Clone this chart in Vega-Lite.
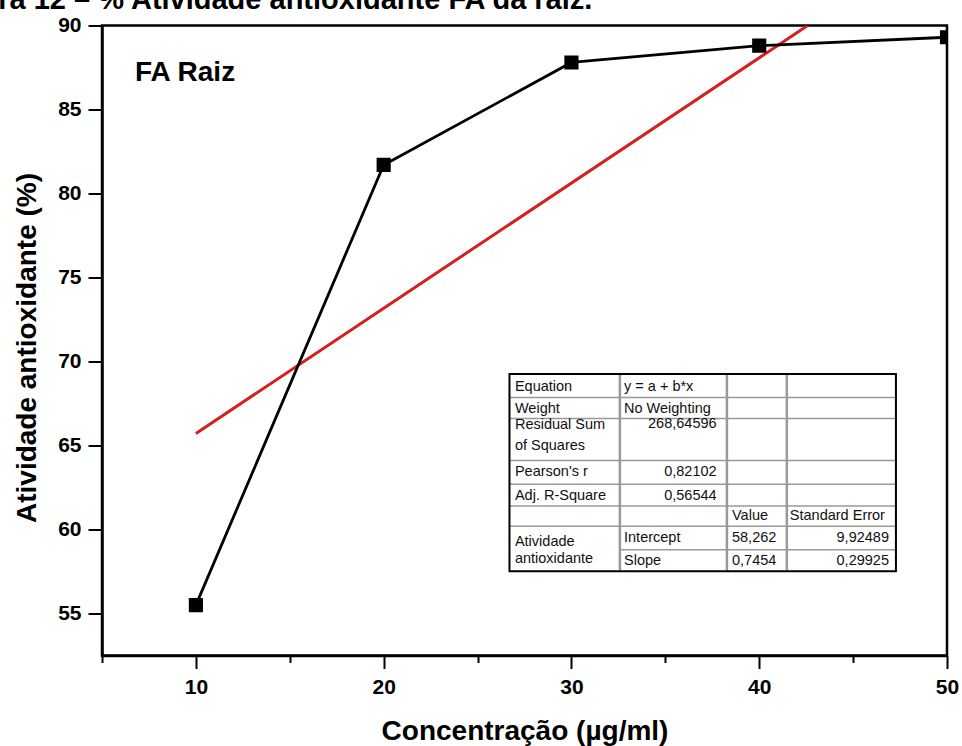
{
  "$schema": "https://vega.github.io/schema/vega-lite/v6.json",
  "width": 845,
  "height": 630,
  "autosize": {"type": "none"},
  "padding": {"left": 102, "top": 25.5, "right": 15, "bottom": 90.5},
  "background": "white",
  "config": {
    "font": "Liberation Sans",
    "view": {"stroke": "black", "strokeWidth": 2.5},
    "title": {"font": "Liberation Sans"}
  },
  "title": {
    "text": "Figura 12 – % Atividade antioxidante FA da raiz.",
    "anchor": "start",
    "frame": "group",
    "dx": -165,
    "dy": 23,
    "offset": 0,
    "baseline": "alphabetic",
    "fontSize": 29,
    "fontWeight": "bold",
    "color": "black"
  },
  "datasets": {
    "pts": [
      {"c": 10, "a": 55.5},
      {"c": 20, "a": 81.7},
      {"c": 30, "a": 87.8},
      {"c": 40, "a": 88.8},
      {"c": 50, "a": 89.3}
    ],
    "fit": [
      {"c": 10, "a": 65.716},
      {"c": 42.58, "a": 90}
    ],
    "label": [
      {"c": 6.76, "a": 86.7, "t": "FA Raiz"}
    ],
    "box": [
      {"x": 26.7, "x2": 47.28, "y": 57.51, "y2": 69.25}
    ],
    "hlines": [
      {"x": 26.7, "x2": 47.28, "y": 67.85},
      {"x": 26.7, "x2": 47.28, "y": 66.6},
      {"x": 26.7, "x2": 47.28, "y": 64.1},
      {"x": 26.7, "x2": 47.28, "y": 62.7},
      {"x": 26.7, "x2": 47.28, "y": 61.4},
      {"x": 26.7, "x2": 47.28, "y": 60.2},
      {"x": 32.58, "x2": 47.28, "y": 58.8}
    ],
    "vlines": [
      {"x": 32.58, "y": 57.51, "y2": 69.25},
      {"x": 38.28, "y": 57.51, "y2": 69.25},
      {"x": 41.47, "y": 57.51, "y2": 69.25}
    ],
    "cells": [
      {"x": 26.99, "y": 68.49, "t": "Equation", "ra": false},
      {"x": 32.8, "y": 68.49, "t": "y = a + b*x", "ra": false},
      {"x": 26.99, "y": 67.19, "t": "Weight", "ra": false},
      {"x": 32.8, "y": 67.19, "t": "No Weighting", "ra": false},
      {"x": 26.99, "y": 66.25, "t": "Residual Sum", "ra": false},
      {"x": 26.99, "y": 65.0, "t": "of Squares", "ra": false},
      {"x": 37.73, "y": 66.29, "t": "268,64596", "ra": true},
      {"x": 26.99, "y": 63.4, "t": "Pearson's r", "ra": false},
      {"x": 37.73, "y": 63.4, "t": "0,82102", "ra": true},
      {"x": 26.99, "y": 62.0, "t": "Adj. R-Square", "ra": false},
      {"x": 37.73, "y": 62.0, "t": "0,56544", "ra": true},
      {"x": 38.55, "y": 60.81, "t": "Value", "ra": false},
      {"x": 41.63, "y": 60.81, "t": "Standard Error", "ra": false},
      {"x": 26.99, "y": 59.25, "t": "Atividade", "ra": false},
      {"x": 26.99, "y": 58.25, "t": "antioxidante", "ra": false},
      {"x": 32.8, "y": 59.51, "t": "Intercept", "ra": false},
      {"x": 38.55, "y": 59.51, "t": "58,262", "ra": false},
      {"x": 46.91, "y": 59.51, "t": "9,92489", "ra": true},
      {"x": 32.8, "y": 58.15, "t": "Slope", "ra": false},
      {"x": 38.55, "y": 58.15, "t": "0,7454", "ra": false},
      {"x": 46.91, "y": 58.15, "t": "0,29925", "ra": true}
    ]
  },
  "layer": [
    {
      "data": {"name": "fit"},
      "mark": {"type": "line", "color": "#d61f1f", "strokeWidth": 3, "clip": true},
      "encoding": {
        "x": {
          "field": "c", "type": "quantitative",
          "scale": {"domain": [5, 50], "nice": false, "zero": false},
          "axis": {
            "values": [5, 10, 15, 20, 25, 30, 35, 40, 45, 50],
            "labelExpr": "datum.value % 10 === 0 ? datum.label : ''",
            "tickSize": {"condition": {"test": "datum.value % 10 === 0", "value": 13}, "value": 7},
            "tickWidth": 2,
            "tickColor": "black",
            "domainColor": "black",
            "domainWidth": 2.5,
            "grid": false,
            "labelFont": "Liberation Sans",
            "labelFontSize": 21,
            "labelFontWeight": "bold",
            "labelColor": "black",
            "labelPadding": 8,
            "labelFlush": false,
            "labelOverlap": false,
            "title": "Concentração (µg/ml)",
            "titleFont": "Liberation Sans",
            "titleFontSize": 28,
            "titleFontWeight": "bold",
            "titleColor": "black",
            "titleBaseline": "alphabetic",
            "titleY": 84
          }
        },
        "y": {
          "field": "a", "type": "quantitative",
          "scale": {"domain": [52.5, 90], "nice": false, "zero": false},
          "axis": {
            "values": [55, 60, 65, 70, 75, 80, 85, 90],
            "tickSize": 14,
            "tickWidth": 2,
            "tickColor": "black",
            "domainColor": "black",
            "domainWidth": 2.5,
            "grid": false,
            "labelFont": "Liberation Sans",
            "labelFontSize": 21,
            "labelFontWeight": "bold",
            "labelColor": "black",
            "labelPadding": 7,
            "labelFlush": false,
            "labelOverlap": false,
            "title": "Atividade antioxidante (%)",
            "titleFont": "Liberation Sans",
            "titleFontSize": 28,
            "titleFontWeight": "bold",
            "titleColor": "black",
            "titleBaseline": "alphabetic",
            "titleX": -67,
            "titleY": 322
          }
        }
      }
    },
    {
      "data": {"name": "pts"},
      "mark": {"type": "line", "color": "black", "strokeWidth": 2.8, "clip": true},
      "encoding": {
        "x": {"field": "c", "type": "quantitative"},
        "y": {"field": "a", "type": "quantitative"}
      }
    },
    {
      "data": {"name": "pts"},
      "mark": {"type": "point", "shape": "square", "filled": true, "color": "black", "size": 200, "opacity": 1, "clip": true},
      "encoding": {
        "x": {"field": "c", "type": "quantitative"},
        "y": {"field": "a", "type": "quantitative"}
      }
    },
    {
      "data": {"name": "label"},
      "mark": {"type": "text", "align": "left", "baseline": "alphabetic", "font": "Liberation Sans", "fontSize": 28, "fontWeight": "bold", "color": "black"},
      "encoding": {
        "x": {"field": "c", "type": "quantitative"},
        "y": {"field": "a", "type": "quantitative"},
        "text": {"field": "t"}
      }
    },
    {
      "data": {"name": "box"},
      "mark": {"type": "rect", "fill": "white", "stroke": null},
      "encoding": {
        "x": {"field": "x", "type": "quantitative"},
        "x2": {"field": "x2"},
        "y": {"field": "y", "type": "quantitative"},
        "y2": {"field": "y2"}
      }
    },
    {
      "data": {"name": "hlines"},
      "mark": {"type": "rule", "color": "#999999", "strokeWidth": 1.5},
      "encoding": {
        "x": {"field": "x", "type": "quantitative"},
        "x2": {"field": "x2"},
        "y": {"field": "y", "type": "quantitative"}
      }
    },
    {
      "data": {"name": "vlines"},
      "mark": {"type": "rule", "color": "#999999", "strokeWidth": 2.5},
      "encoding": {
        "x": {"field": "x", "type": "quantitative"},
        "y": {"field": "y", "type": "quantitative"},
        "y2": {"field": "y2"}
      }
    },
    {
      "data": {"name": "box"},
      "mark": {"type": "rect", "fill": null, "fillOpacity": 0, "stroke": "black", "strokeWidth": 2},
      "encoding": {
        "x": {"field": "x", "type": "quantitative"},
        "x2": {"field": "x2"},
        "y": {"field": "y", "type": "quantitative"},
        "y2": {"field": "y2"}
      }
    },
    {
      "data": {"name": "cells"},
      "transform": [{"filter": "!datum.ra"}],
      "mark": {"type": "text", "align": "left", "baseline": "middle", "font": "Liberation Sans", "fontSize": 14.5, "color": "#111111"},
      "encoding": {
        "x": {"field": "x", "type": "quantitative"},
        "y": {"field": "y", "type": "quantitative"},
        "text": {"field": "t"}
      }
    },
    {
      "data": {"name": "cells"},
      "transform": [{"filter": "datum.ra"}],
      "mark": {"type": "text", "align": "right", "baseline": "middle", "font": "Liberation Sans", "fontSize": 14.5, "color": "#111111"},
      "encoding": {
        "x": {"field": "x", "type": "quantitative"},
        "y": {"field": "y", "type": "quantitative"},
        "text": {"field": "t"}
      }
    }
  ]
}
